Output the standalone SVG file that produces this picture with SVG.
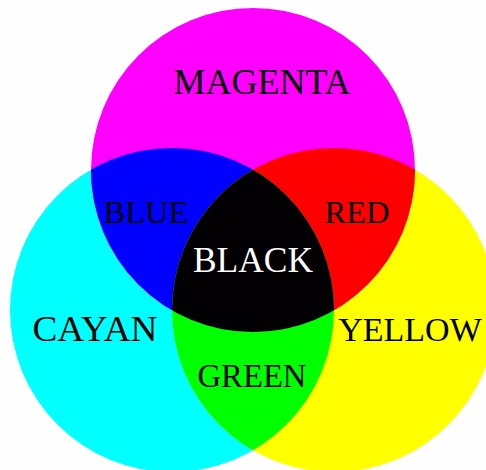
<svg xmlns="http://www.w3.org/2000/svg" width="486" height="470" viewBox="0 0 486 470">
<style>
text{font-family:"Liberation Serif","Times New Roman",serif;fill:#000;text-anchor:middle}
.w{fill:#fff}
</style>
<defs>
<clipPath id="cm"><circle cx="253" cy="170" r="162"/></clipPath>
<clipPath id="cc"><circle cx="172" cy="310" r="162"/></clipPath>
</defs>
<rect width="486" height="470" fill="#fdfefd"/>
<g id="cyan"><circle cx="172" cy="310" r="162" fill="#00ffff"/></g>
<g id="yellow"><circle cx="334" cy="310" r="162" fill="#ffff00"/></g>
<g id="magenta"><circle cx="253" cy="170" r="162" fill="#ff00ff"/></g>
<g id="blue" clip-path="url(#cm)"><circle cx="172" cy="310" r="162" fill="#0000ff"/></g>
<g id="red" clip-path="url(#cm)"><circle cx="334" cy="310" r="162" fill="#ff0000"/></g>
<g id="green" clip-path="url(#cc)"><circle cx="334" cy="310" r="162" fill="#00ff00"/></g>
<g id="black" clip-path="url(#cm)"><g clip-path="url(#cc)"><circle cx="334" cy="310" r="162" fill="#020002"/></g></g>
<g id="labels">
<text x="262" y="94" font-size="36" textLength="177" lengthAdjust="spacingAndGlyphs">MAGENTA</text>
<text x="146" y="223" font-size="32" textLength="85" lengthAdjust="spacingAndGlyphs">BLUE</text>
<text x="357" y="223" font-size="32" textLength="65" lengthAdjust="spacingAndGlyphs">RED</text>
<text class="w" x="253" y="272" font-size="35" textLength="120" lengthAdjust="spacingAndGlyphs">BLACK</text>
<text x="95" y="341" font-size="36" textLength="125" lengthAdjust="spacingAndGlyphs">CAYAN</text>
<text x="410" y="341" font-size="34">YELLOW</text>
<text x="252" y="387" font-size="33" textLength="109" lengthAdjust="spacingAndGlyphs">GREEN</text>
</g>
</svg>
